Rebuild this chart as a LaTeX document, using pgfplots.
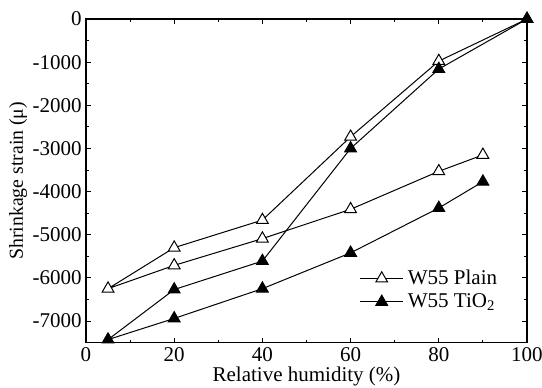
\documentclass[border=0pt]{standalone}
\usepackage{fontspec}
\setmainfont{Liberation Serif}
\usepackage{pgfplots}
\pgfplotsset{compat=1.18}
\begin{document}
\fontsize{10.5}{12.5}\selectfont
\begin{tikzpicture}
\begin{axis}[
  scale only axis,
  width=220.5pt, height=161.8pt,
  xmin=0, xmax=100, ymin=-7500, ymax=0,
  xtick={0,20,40,60,80,100},
  ytick={-7000,-6000,-5000,-4000,-3000,-2000,-1000,0},
  minor x tick num=1, minor y tick num=1,
  scaled y ticks=false,
  /pgf/number format/assume math mode=true,
  /pgf/number format/1000 sep={},
  tick align=inside,
  major tick length=2.5pt, minor tick length=1.5pt,
  tick style={line width=0.5pt, black},
  axis line style={line width=0.6pt},
  xticklabel style={yshift=1pt},
  yticklabel style={xshift=1.5pt},
  xlabel={Relative humidity (\%)},
  ylabel={Shrinkage strain (μ)},
  xlabel style={at={(axis description cs:0.5,-0.1205)}, anchor=base},
  ylabel style={at={(axis description cs:-0.154,0.5)}, anchor=center, font=\fontsize{9.9}{12}\selectfont},
  clip=false,
  legend style={draw=none, fill=none, at={(0.615,0.245)}, anchor=north west, row sep=-1pt, inner sep=1pt},
  legend cell align=left,
  legend image code/.code={\draw[mark repeat=2,mark phase=2] plot coordinates {(0cm,0cm)(0.38cm,0cm)(0.76cm,0cm)};},
]
\addplot[black, line width=0.5pt, mark=triangle*, mark size=3.4pt, mark options={fill=white, line width=0.5pt}] coordinates {
(90,-3150) (80,-3530) (60,-4410) (40,-5090) (20,-5710) (5,-6250) (20,-5300) (40,-4660) (60,-2730) (80,-975) (100,0)
};
\addlegendentry{W55 Plain}
\addplot[black, line width=0.5pt, mark=triangle*, mark size=3.4pt, mark options={fill=black, line width=0.5pt}] coordinates {
(90,-3770) (80,-4380) (60,-5420) (40,-6250) (20,-6940) (5,-7430) (20,-6270) (40,-5610) (60,-3000) (80,-1160) (100,0)
};
\addlegendentry{W55 TiO\textsubscript{2}}
\end{axis}
\pgfresetboundingbox
\path (-43pt,-22.65pt) rectangle (228pt,171.3pt);
\end{tikzpicture}
\end{document}
